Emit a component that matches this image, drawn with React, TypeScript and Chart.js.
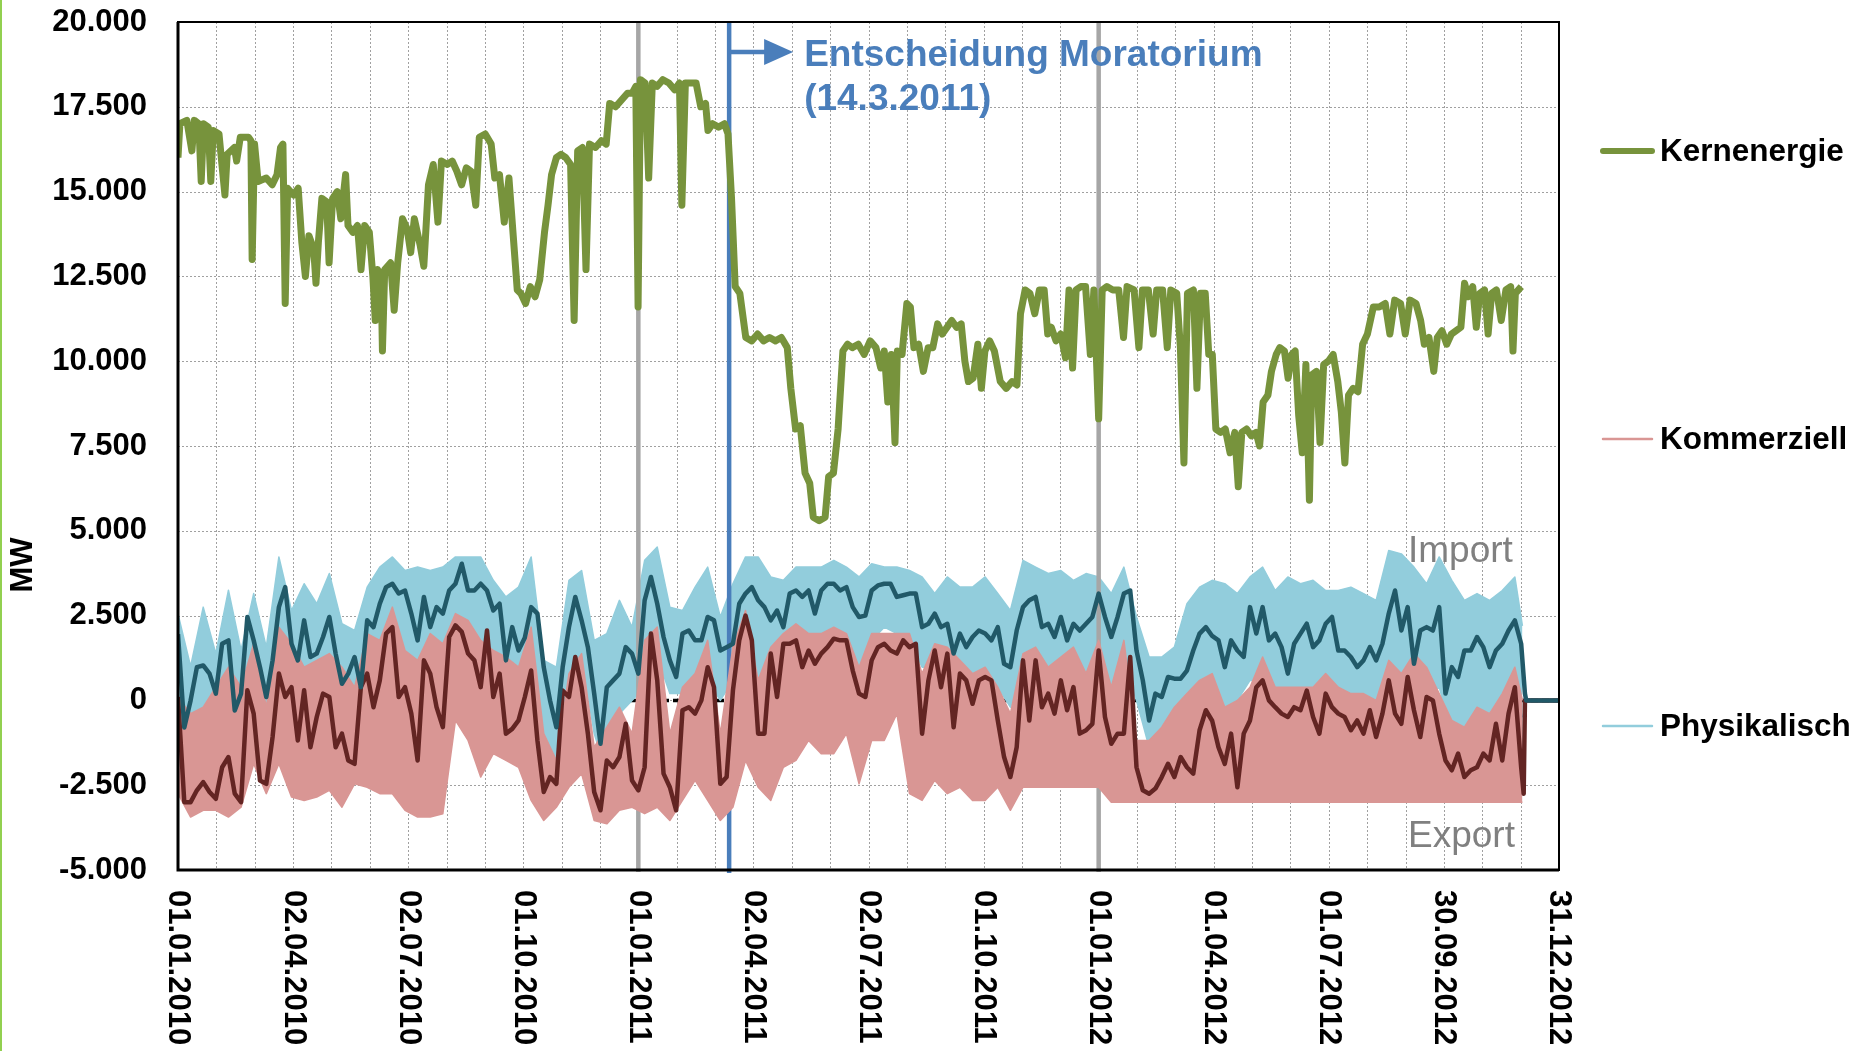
import React, { useEffect, useRef } from "react";
import { Chart, registerables } from "chart.js";

Chart.register(...registerables);

const FONT = '"Liberation Sans", Arial, Helvetica, sans-serif';

// ---------- axis / labels ----------
const xTickLabels = [
  "01.01.2010", "02.04.2010", "02.07.2010", "01.10.2010", "01.01.2011", "02.04.2011",
  "02.07.2011", "01.10.2011", "01.01.2012", "01.04.2012", "01.07.2012", "30.09.2012", "31.12.2012",
];
const AXIS_END_DAY = 1095; // days since 01.01.2010
const LABEL_STEP_DAYS = 91.25;
const GRID_COUNT = 36;
const Y_MIN = -5000;
const Y_MAX = 20000;
const Y_STEP = 2500;
const yearStartDays = [365, 730];
const moratoriumDay = 437; // 14.3.2011

// ---------- Kernenergie (MW) ----------
const nukeDays = [
  0, 1.5, 7, 11, 13, 16.5, 18.4, 20.3, 24, 26, 28, 32.5, 34.3, 37.2, 39, 44.7, 46.5, 49.4, 56, 57.8,
  58.8, 60.7, 63.5, 70, 74.7, 78.5, 81.3, 83.2, 85, 86.9, 91.6, 95.3, 98.2, 101, 103.8, 107.6, 109.4, 111.3, 114.1, 117.9,
  119.8, 122.6, 126.3, 129.1, 132.9, 134.8, 138.6, 142.3, 145.1, 148, 151.7, 154.5, 156.4, 158.3, 161.1, 162.1, 163.9, 168.6, 171.4, 174.2,
  178, 181.7, 184.5, 187.4, 192.1, 194.9, 198.6, 202.4, 206.1, 208.9, 213.6, 217.4, 221.1, 224.9, 228.6, 232.4, 236.1, 238.9, 243.6, 248.3,
  251.2, 254.9, 258.7, 262.4, 265.2, 269, 271.8, 275.6, 279.3, 283.1, 286.8, 290.6, 293.4, 296.2, 300, 303.7, 307.5, 311.3, 314.1, 316.9,
  320.7, 323.5, 326.3, 331, 335.7, 339.5, 342.3, 347, 351.7, 356.4, 360.1, 363, 364.8, 366.7, 370.4, 373.2, 376.1, 379.8, 384.5, 389.2,
  393.9, 397.6, 399.5, 402.3, 406.1, 410.8, 414.5, 418.3, 420.2, 423.9, 428.6, 433.3, 436.1, 438.9, 441.8, 445.5, 450.2, 454.9, 459.6, 464.3,
  469, 473.7, 478.4, 483.1, 485.9, 489.7, 493.4, 497.2, 500.9, 503.7, 508.4, 513.1, 515.9, 519.7, 523.4, 527.2, 530.9, 534.7, 539.4, 544.1,
  548.8, 553.4, 557.2, 560, 562.8, 565.6, 568.5, 570.4, 574.1, 577.9, 580.7, 583.5, 587.3, 591, 594.8, 598.5, 602.3, 606, 609.8, 613.5,
  617.3, 621, 623.9, 626.7, 630.4, 634.2, 637, 639.8, 643.6, 647.3, 652, 656.7, 661.4, 665.2, 668, 671.7, 675.5, 679.3, 683, 686.8,
  689.6, 692.4, 696.2, 699.9, 703.7, 706.5, 709.3, 712.1, 715.9, 719.6, 723.4, 726.2, 730, 732.8, 736.5, 741.2, 745.9, 749.7, 752.5, 758.1,
  761.9, 764.7, 769.4, 773.2, 776, 780.7, 784.4, 787.2, 791.9, 794.8, 797.6, 800.4, 805.1, 807.9, 810.7, 814.5, 817.3, 820.1, 822.9, 826.7,
  830.4, 834.2, 837.9, 840.7, 843.5, 847.3, 851, 854.8, 857.6, 860.4, 864.2, 867, 870.8, 873.6, 877.3, 880.2, 883, 885.8, 888.6, 891.4,
  894.3, 897.1, 899, 902.7, 905.5, 908.4, 912.1, 915.9, 919.6, 922.4, 925.2, 928.1, 931.8, 935.6, 939.3, 943.1, 947.8, 952.5, 957.2, 960.9,
  964.7, 969.4, 973.1, 976.9, 981.6, 985.3, 988.2, 991.9, 995.7, 998.5, 1002.2, 1006, 1009.7, 1013.5, 1017.2, 1020.1, 1022.9, 1026.6, 1029.4, 1032.2,
  1036, 1038.8, 1041.6, 1045.4, 1049.2, 1052.9, 1056.7, 1058.5, 1060.4, 1065.1,
];
const nukeMW = [
  16000, 17000, 17100, 16200, 17100, 17000, 15300, 17000, 16900, 15300, 16800, 16700, 16000, 14900, 16100, 16300, 15900, 16600, 16600, 16500,
  13000, 16400, 15300, 15400, 15200, 15500, 16300, 16400, 11700, 15100, 14900, 15100, 13500, 12500, 13700, 13300, 12300, 13500, 14800, 14700,
  12900, 14800, 15000, 14200, 15500, 14000, 13800, 14000, 12700, 14000, 13800, 12500, 11200, 12700, 12400, 10300, 12700, 12900, 11500, 12900,
  14200, 13900, 13200, 14200, 13400, 12800, 15200, 15800, 14100, 15900, 15800, 15900, 15600, 15200, 15700, 15600, 14600, 16600, 16700, 16400,
  15400, 15500, 14100, 15400, 14000, 12100, 12000, 11700, 12200, 11900, 12400, 13800, 14600, 15500, 16000, 16100, 16000, 15800, 11200, 16200,
  16300, 12700, 16400, 16300, 16500, 16400, 17600, 17500, 17700, 17900, 17900, 18100, 11600, 18300, 18200, 15400, 18200, 18100, 18300, 18200,
  18000, 18200, 14600, 18200, 18200, 18200, 17500, 17600, 16800, 17000, 16900, 17000, 16700, 14800, 12200, 12000, 10700, 10600, 10800, 10600,
  10700, 10600, 10700, 10400, 9200, 8000, 8100, 6700, 6400, 5400, 5300, 5400, 6600, 6700, 8000, 10300, 10500, 10400, 10500, 10200,
  10600, 10400, 9800, 10300, 8800, 10200, 7600, 10300, 10200, 11700, 11600, 10400, 10500, 9700, 10400, 10400, 11100, 10800, 11000, 11200,
  11000, 11100, 10000, 9400, 9500, 10500, 9200, 10300, 10600, 10300, 9400, 9200, 9400, 9300, 11400, 12100, 12000, 11400, 12100, 12100,
  10800, 11000, 10600, 10800, 10100, 12100, 9800, 12100, 12200, 12200, 10200, 12100, 8300, 12100, 12200, 12100, 12100, 10700, 12200, 12100,
  10400, 12100, 12100, 10800, 12100, 12100, 10400, 12100, 12000, 10400, 7000, 12000, 12100, 9200, 12000, 12000, 10200, 10200, 8000, 7900,
  8000, 7300, 7900, 6300, 7900, 8000, 7800, 7900, 7500, 8800, 9000, 9700, 10200, 10400, 10300, 9500, 10200, 10300, 8400, 7300,
  9900, 5900, 9600, 9700, 7600, 9900, 10000, 10200, 9400, 8500, 7000, 9000, 9200, 9100, 10500, 10800, 11600, 11600, 11700, 10800,
  11800, 11700, 10800, 11800, 11700, 11200, 10500, 10700, 9700, 10700, 10900, 10500, 10800, 10900, 11000, 12300, 11900, 12200, 11000, 12000,
  12100, 10800, 12000, 12100, 11200, 12100, 12200, 10300, 12000, 12200,
];

// ---------- smoothed import/export (MW), every 5 days from 01.01.2010 ----------
const AVG_STEP_DAYS = 5;
const physAvgMW = [
  1950, -800, 0, 980, 1030, 790, 200, 1670, 1770, -300, 200, 2460, 1770, 980, 100, 1180, 2750, 3340, 1670, 1180,
  2360, 1280, 1380, 1870, 2460, 1380, 490, 790, 1280, 390, 2360, 2160, 2850, 3340, 3440, 3150, 3240, 2560, 1770, 3050,
  2160, 2750, 2560, 3240, 3440, 4030, 3240, 3240, 3440, 3240, 2650, 2850, 1180, 2160, 1470, 1850,
  2750, 2560, 980, 0, -790, 980, 2160, 3050, 2360, 1570, 200, -1280, 390, 590, 790, 1570, 1380, 790, 2950, 3640,
  2850, 1870, 1180, 690, 1970, 2060, 1770, 1770, 2460, 2360, 1470, 1570, 1670, 2850, 3150, 3340, 2950, 2750, 2360, 2650,
  2160, 3150, 3240, 3050, 3240, 2560, 3240, 3440, 3440, 3240, 3340, 2750, 2460, 2500,
  3240, 3390, 3440, 3440, 3050, 3100, 3150, 3150, 2160, 2260, 2560, 2160, 2260, 1380, 1970, 1570, 1870, 2060, 1970, 1770,
  2160, 1080, 980, 2060, 2750, 2950, 3050, 2160, 2260, 1870, 2460, 1770, 2260, 2060, 2260, 2460, 3150, 2460, 1870, 2460,
  3150, 3240, 1470, 590, -590, 200, 100, 690, 640, 640, 880, 1470, 1970, 2160, 1900,
  1770, 980, 1770, 1470, 1280, 2750, 1970, 2750, 1770, 1970, 1570, 790, 1670, 1970, 2260, 1570, 1770, 2260, 2460, 1470,
  1470, 1280, 980, 1180, 1570, 1180, 1670, 2560, 3240, 2060, 2750, 1080, 2060, 2160, 2060, 2750, 200, 980, 690, 1470,
  1470, 1870, 1570, 980, 1470, 1670, 2060, 2360, 1670,
];
const kommAvgMW = [
  100, -3000, -3000, -2650, -2410, -2700, -2900, -1970, -1670, -2750, -3000, 300, -390, -2360, -2460, -1080, 790, 100, 390, -1180,
  300, -1380, -490, 200, 100, -1380, -980, -1770, -1870, 390, 790, -200, 590, 1970, 2160, 100, 390, -390, -1770, 1180,
  790, -200, -790, 1870, 2210, 2020, 1380, 1180, 390, 2060, 100, 790, -980, -840, -590, 100,
  880, -1180, -2700, -2260, -2460, 290, 100, 1280, 390, -980, -2700, -3240, -1770, -1970, -1670, -690, -2360, -2650, -1970, 1970,
  590, -2160, -2560, -3240, -290, -200, -390, 0, 980, 390, -2460, -2260, 290, 1770, 2500, 1770, -980, -980, 1380, 100,
  1670, 1670, 1770, 980, 1470, 1080, 1380, 1570, 1820, 1770, 1770, 880, 200, 100,
  1180, 1570, 1670, 1470, 1380, 1770, 1570, 1670, -980, 590, 1470, 390, 1380, -790, 790, 590, -100, 590, 690, 590,
  -590, -1670, -2260, -1380, 1180, -590, 1180, -200, 200, -390, 590, -290, 390, -980, -880, -690, 1470, -490, -1280, -980,
  -980, 1280, -1970, -2650, -2750, -2600, -2260, -1870, -2260, -1670, -1970, -2160, -880, -290, -600,
  -1380, -1870, -980, -2560, -980, -590, 390, 590, 0, -200, -390, -490, -200, -290, 290, -490, -980, 200, -200, -390,
  -490, -880, -590, -980, -290, -1080, -390, 590, -390, -690, 690, -290, -1080, 100, 0, -980, -1770, -2060, -1570, -2260,
  -2060, -1970, -1570, -1770, -690, -1770, -390, 390, -1970,
];
const physTailDays = [1068, 1069, 1095];
const physTailMW = [200, 0, 0];
const kommTailDays = [1067, 1068, 1095];
const kommTailMW = [-2750, 0, 0];

// ---------- hourly ranges (MW): envelope every 10 days, last point at day 1066 ----------
const ENV_STEP_DAYS = 10;
const ENV_LAST_DAY = 1066;
const physUpperMW = [
  2550, 1000, 2750, 1380, 3250, 1480, 3150, 1570, 4230, 2650,
  3440, 2850, 3740, 2260, 2060, 3340, 3930, 4230, 3830, 3930,
  3830, 3930, 4230, 4230, 4230, 3540, 3050, 3340, 4230, 1180,
  980, 3540, 3830, 1770, 1970, 2950, 2160, 4130, 4520, 2750,
  2650, 3340, 3930, 2460, 3440, 4230, 4230, 3640, 3540, 3930,
  3930, 3930, 4130, 3930, 3640, 4030, 3930, 3930, 3830, 3640,
  3150, 3640, 3340, 3340, 3640, 3150, 2650, 4130, 3930, 3740,
  3830, 3540, 3740, 3640, 3150, 3930, 2460, 1280, 1280, 1570,
  2850, 3340, 3540, 3440, 3150, 3640, 3930, 3240, 3640, 3440,
  3540, 3240, 3240, 3340, 3150, 2950, 4420, 4320, 3930, 3440,
  4230, 3540, 2950, 3150, 2950, 3240, 3640, 2200,
];
const physLowerMW = [
  -1970, -1570, -390, 0, 0, -790, 290, -790, 590, 0,
  390, 0, 390, -880, -390, 390, 790, 1380, 790, 0,
  790, 390, 1770, 1380, 980, 690, 390, 0, 390, -980,
  -1770, 390, 1280, -980, -2160, -390, 0, 390, 1280, 200,
  200, 390, 590, 0, 590, 1280, 390, 590, 790, 1570,
  1470, 1380, 1380, 390, 390, 1770, 2160, 1970, 1770, 980,
  980, 980, 390, 390, 390, 390, -200, 790, 1380, 790,
  790, 790, 790, 1180, 390, 1180, 0, -1380, -790, -390,
  -200, 390, 590, -200, 0, 590, 590, 390, -390, 390,
  200, 390, 0, -200, -590, -390, 200, 590, 0, 200,
  390, -980, -790, -390, -390, 0, 390, -500,
];
const kommUpperMW = [
  100, -390, -200, 390, 980, 390, 1670, -200, 2160, 1670,
  980, 1180, 1380, 980, 390, 1970, 1770, 2750, 1470, 1180,
  1970, 1670, 2560, 2360, 1770, 1470, 1280, 980, 2160, -980,
  -1770, 790, 1380, -1380, -790, -200, -980, 1770, 2160, -980,
  390, 790, 1770, -980, 1570, 2650, 590, 1570, 1970, 2260,
  1970, 1970, 2160, 1970, 980, 1970, 1970, 1970, 1970, 790,
  1670, 1570, 1180, 790, 980, 390, -390, 1380, 1570, 980,
  1280, 1570, 790, 1770, 390, 1770, -1180, -1180, -790, -200,
  200, 590, 790, -200, 0, 390, 1280, 390, 390, 390,
  390, 790, 390, 200, 200, 0, 1180, 790, 1380, 980,
  200, -590, -790, -200, -390, 200, 980, 0,
];
const kommLowerMW = [
  -2750, -3440, -3240, -3240, -3440, -3150, -1870, -2750, -1870, -2850,
  -2950, -2850, -2650, -3150, -2460, -2560, -2750, -2750, -3240, -3440,
  -3440, -3340, -590, -1180, -2260, -1570, -1770, -1970, -2950, -3540,
  -3150, -2560, -2160, -3540, -3640, -3240, -3150, -3340, -3150, -3540,
  -2950, -2360, -2950, -3540, -3150, -1770, -2560, -2950, -1970, -1770,
  -1180, -1570, -1570, -980, -2460, -1180, -1180, -390, -2750, -2950,
  -2360, -2750, -2560, -2950, -2950, -2560, -3240, -2560, -2560, -2560,
  -2560, -2560, -2560, -2560, -3000, -3000, -3000, -3000, -3000, -3000,
  -3000, -3000, -3000, -3000, -3000, -3000, -3000, -3000, -3000, -3000,
  -3000, -3000, -3000, -3000, -3000, -3000, -3000, -3000, -3000, -3000,
  -3000, -3000, -3000, -3000, -3000, -3000, -3000, -3000,
];

// ---------- colours ----------
const GREEN = "#77933C";
const PINK = "#D99694";
const MAROON = "#632523";
const LIGHTBLUE = "#92CDDC";
const TEAL = "#215968";
const ANNOT_BLUE = "#4A7EBB";

const pts = (days: number[], vals: number[]) => vals.map((v, i) => ({ x: days[i], y: v }));
const avgDays = physAvgMW.map((_, i) => i * AVG_STEP_DAYS);
const envDays = physUpperMW.map((_, i) => (i < physUpperMW.length - 1 ? i * ENV_STEP_DAYS : ENV_LAST_DAY));

const fmtDE = (v: number) => {
  const s = Math.abs(v).toString().replace(/\B(?=(\d{3})+(?!\d))/g, ".");
  return (v < 0 ? "-" : "") + s;
};

const decorPlugin = {
  id: "decor",
  beforeDatasetsDraw(chart: any) {
    const { ctx, chartArea: a, scales } = chart;
    const x = scales.x;
    const y = scales.y;
    ctx.save();
    ctx.strokeStyle = "#a0a0a0";
    ctx.lineWidth = 1;
    ctx.setLineDash([2, 2]);
    for (let i = 0; i <= GRID_COUNT; i++) {
      const px = Math.round(x.getPixelForValue((i * AXIS_END_DAY) / GRID_COUNT)) + 0.5;
      ctx.beginPath();
      ctx.moveTo(px, a.top);
      ctx.lineTo(px, a.bottom);
      ctx.stroke();
    }
    for (let v = Y_MIN; v <= Y_MAX; v += Y_STEP) {
      const py = Math.round(y.getPixelForValue(v)) + 0.5;
      ctx.beginPath();
      ctx.moveTo(a.left, py);
      ctx.lineTo(a.right, py);
      ctx.stroke();
    }
    // zero line
    ctx.setLineDash([7, 4]);
    ctx.strokeStyle = "#000";
    ctx.lineWidth = 3.5;
    const y0 = y.getPixelForValue(0);
    ctx.beginPath();
    ctx.moveTo(a.left, y0);
    ctx.lineTo(a.right, y0);
    ctx.stroke();
    ctx.restore();
  },
  afterDatasetDraw(chart: any, args: any) {
    if (args.index !== 5) return;
    const { ctx, chartArea: a, scales } = chart;
    const x = scales.x;
    ctx.save();
    ctx.strokeStyle = "#A6A6A6";
    ctx.lineWidth = 4.5;
    yearStartDays.forEach((d) => {
      const px = x.getPixelForValue(d);
      ctx.beginPath();
      ctx.moveTo(px, a.top);
      ctx.lineTo(px, a.bottom + 2);
      ctx.stroke();
    });
    ctx.strokeStyle = ANNOT_BLUE;
    ctx.lineWidth = 4.5;
    const mx = x.getPixelForValue(moratoriumDay);
    ctx.beginPath();
    ctx.moveTo(mx, a.top);
    ctx.lineTo(mx, a.bottom + 3);
    ctx.stroke();
    ctx.restore();
  },
  afterDatasetsDraw(chart: any) {
    const { ctx, chartArea: a, scales } = chart;
    const x = scales.x;
    ctx.save();
    // frame
    ctx.strokeStyle = "#000";
    ctx.lineWidth = 2;
    ctx.strokeRect(a.left, a.top, a.right - a.left, a.bottom - a.top);
    ctx.lineWidth = 3;
    ctx.beginPath();
    ctx.moveTo(a.left, a.top);
    ctx.lineTo(a.left, a.bottom);
    ctx.lineTo(a.right, a.bottom);
    ctx.stroke();

    // annotation arrow
    const mx = x.getPixelForValue(moratoriumDay);
    const ay = 52;
    ctx.strokeStyle = ANNOT_BLUE;
    ctx.fillStyle = ANNOT_BLUE;
    ctx.lineWidth = 4.5;
    ctx.beginPath();
    ctx.moveTo(mx, ay);
    ctx.lineTo(mx + 40, ay);
    ctx.stroke();
    ctx.beginPath();
    ctx.moveTo(mx + 35, ay - 13);
    ctx.lineTo(mx + 64, ay);
    ctx.lineTo(mx + 35, ay + 13);
    ctx.closePath();
    ctx.fill();
    ctx.font = `bold 37px ${FONT}`;
    ctx.textAlign = "left";
    ctx.textBaseline = "alphabetic";
    ctx.fillText("Entscheidung Moratorium", mx + 75, 66);
    ctx.fillText("(14.3.2011)", mx + 75, 110);

    // import/export
    ctx.fillStyle = "#808080";
    ctx.font = `37px ${FONT}`;
    ctx.fillText("Import", 1408, 562);
    ctx.fillText("Export", 1408, 847);
    ctx.restore();
  },
  afterDraw(chart: any) {
    const { ctx, scales } = chart;
    const x = scales.x;
    ctx.save();
    // x labels rotated (reading top to bottom)
    ctx.fillStyle = "#000";
    ctx.font = `bold 31px ${FONT}`;
    ctx.textAlign = "left";
    ctx.textBaseline = "middle";
    xTickLabels.forEach((lab, i) => {
      const px = x.getPixelForValue(i * LABEL_STEP_DAYS);
      ctx.save();
      ctx.translate(px, 890);
      ctx.rotate(Math.PI / 2);
      ctx.fillText(lab, 0, 0);
      ctx.restore();
    });
    // y title
    ctx.save();
    ctx.translate(23, 565);
    ctx.rotate(-Math.PI / 2);
    ctx.textAlign = "center";
    ctx.fillText("MW", 0, 0);
    ctx.restore();

    // legend
    const legend = [
      { label: "Kernenergie", color: GREEN, width: 6, y: 151 },
      { label: "Kommerziell", color: PINK, width: 2.5, y: 439 },
      { label: "Physikalisch", color: LIGHTBLUE, width: 2.5, y: 726 },
    ];
    ctx.font = `bold 31.5px ${FONT}`;
    ctx.textAlign = "left";
    ctx.textBaseline = "middle";
    legend.forEach((l) => {
      ctx.strokeStyle = l.color;
      ctx.lineWidth = l.width;
      ctx.lineCap = "round";
      ctx.beginPath();
      ctx.moveTo(1603, l.y);
      ctx.lineTo(1652, l.y);
      ctx.stroke();
      ctx.fillStyle = "#000";
      ctx.fillText(l.label, 1660, l.y + 1);
    });

    // slide edge stripe
    ctx.fillStyle = "#92D050";
    ctx.fillRect(0, 0, 2, chart.height);
    ctx.restore();
  },
};

export default function App() {
  const ref = useRef<HTMLCanvasElement>(null);
  useEffect(() => {
    document.body.style.margin = "0";
    const lineBase = { pointRadius: 0, tension: 0, borderJoinStyle: "round" as const };
    const chart = new Chart(ref.current as HTMLCanvasElement, {
      type: "line",
      data: {
        datasets: [
          { ...lineBase, label: "Kernenergie", data: pts(nukeDays, nukeMW), borderColor: GREEN, borderWidth: 7, fill: false, order: 0 },
          { ...lineBase, label: "Physikalisch Mittel", data: [...pts(avgDays, physAvgMW), ...pts(physTailDays, physTailMW)], borderColor: TEAL, borderWidth: 4.5, fill: false, order: 1 },
          { ...lineBase, label: "Kommerziell Mittel", data: [...pts(avgDays, kommAvgMW), ...pts(kommTailDays, kommTailMW)], borderColor: MAROON, borderWidth: 4.5, fill: false, order: 2 },
          { ...lineBase, label: "Kommerziell max", data: pts(envDays, kommUpperMW), borderColor: PINK, backgroundColor: PINK, borderWidth: 1.5, fill: "+1", order: 3 },
          { ...lineBase, label: "Kommerziell min", data: pts(envDays, kommLowerMW), borderColor: PINK, borderWidth: 1.5, fill: false, order: 4 },
          { ...lineBase, label: "Physikalisch max", data: pts(envDays, physUpperMW), borderColor: LIGHTBLUE, backgroundColor: LIGHTBLUE, borderWidth: 1.5, fill: "+1", order: 5 },
          { ...lineBase, label: "Physikalisch min", data: pts(envDays, physLowerMW), borderColor: LIGHTBLUE, borderWidth: 1.5, fill: false, order: 6 },
        ],
      },
      options: {
        responsive: false,
        maintainAspectRatio: false,
        animation: false,
        events: [],
        layout: { padding: { top: 22, right: 297, left: 0, bottom: 0 } },
        plugins: { legend: { display: false }, tooltip: { enabled: false } },
        scales: {
          x: {
            type: "linear",
            min: 0,
            max: AXIS_END_DAY,
            grid: { display: false, drawTicks: false },
            border: { display: false },
            ticks: { display: false },
            afterFit: (s: any) => { s.height = 181; },
          },
          y: {
            min: Y_MIN,
            max: Y_MAX,
            grid: { display: false, drawTicks: true, tickLength: 28 },
            border: { display: false },
            ticks: {
              stepSize: Y_STEP,
              padding: 3,
              color: "#000",
              font: { family: FONT, size: 31, weight: "bold" },
              callback: (v: any) => fmtDE(Number(v)),
            },
            afterFit: (s: any) => { s.width = 178; },
          },
        },
      },
      plugins: [decorPlugin],
    } as any);
    return () => chart.destroy();
  }, []);
  return (
    <div style={{ position: "absolute", left: 0, top: 0, width: 1856, height: 1051, background: "#fff" }}>
      <canvas ref={ref} width={1856} height={1051} style={{ display: "block", width: 1856, height: 1051 }} />
    </div>
  );
}
